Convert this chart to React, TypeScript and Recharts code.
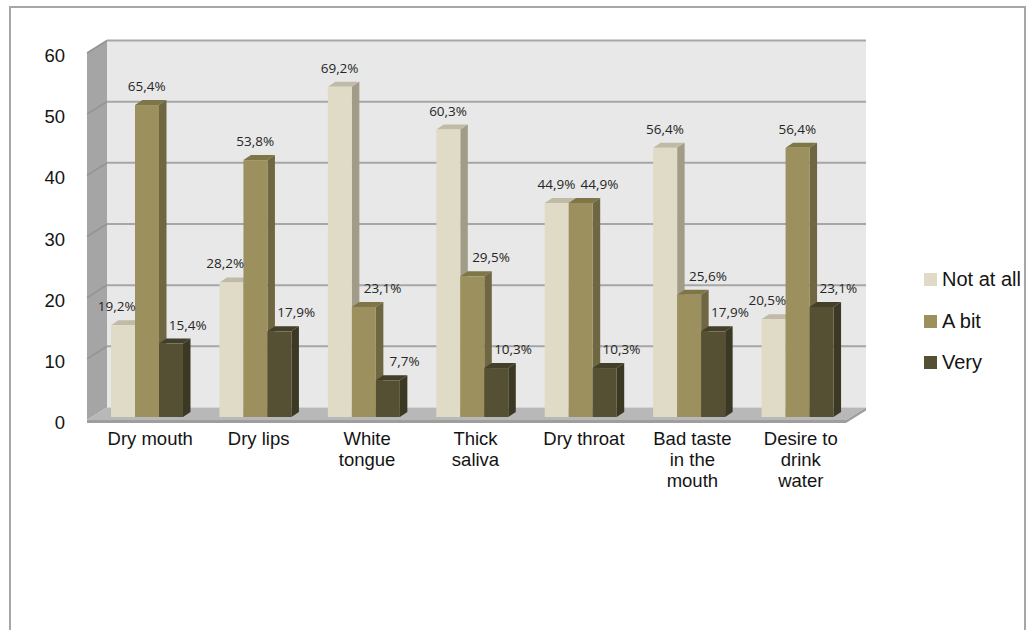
import React from 'react';
import { Bar, BarChart, CartesianGrid, LabelList, Legend, XAxis, YAxis } from 'recharts';

// counts out of 78 respondents, percentages as printed on the chart
const CATEGORIES = [
  'Dry mouth',
  'Dry lips',
  'White\ntongue',
  'Thick\nsaliva',
  'Dry throat',
  'Bad taste\nin the\nmouth',
  'Desire to\ndrink\nwater',
];
const NOT_AT_ALL = [15, 22, 54, 47, 35, 44, 16];
const A_BIT = [51, 42, 18, 23, 35, 20, 44];
const VERY = [12, 14, 6, 8, 8, 14, 18];
const NOT_AT_ALL_PCT = ['19,2%', '28,2%', '69,2%', '60,3%', '44,9%', '56,4%', '20,5%'];
const A_BIT_PCT = ['65,4%', '53,8%', '23,1%', '29,5%', '44,9%', '25,6%', '56,4%'];
const VERY_PCT = ['15,4%', '17,9%', '7,7%', '10,3%', '10,3%', '17,9%', '23,1%'];
const Y_TICKS = [0, 10, 20, 30, 40, 50, 60];

const SERIES = [
  { key: 'notAtAll', pct: 'notAtAllPct', name: 'Not at all', front: '#E0DBC6', top: '#BFBBA6', side: '#A09C88' },
  { key: 'aBit', pct: 'aBitPct', name: 'A bit', front: '#9C915E', top: '#7F7648', side: '#6E6742' },
  { key: 'very', pct: 'veryPct', name: 'Very', front: '#555034', top: '#433F28', side: '#3B3824' },
];

const rows = CATEGORIES.map((name, i) => ({
  name,
  notAtAll: NOT_AT_ALL[i],
  aBit: A_BIT[i],
  very: VERY[i],
  notAtAllPct: NOT_AT_ALL_PCT[i],
  aBitPct: A_BIT_PCT[i],
  veryPct: VERY_PCT[i],
}));

const W = 1026;
const H = 630;
const PLOT = { left: 93, top: 50, width: 759, height: 367 };
const BACK = { dx: 14, dy: -9.5 };
const FRONT = { dx: -6, dy: 3 };
const DEPTH = { dx: 7.5, dy: -5 };
const Y_AXIS_W = 40;
const X_AXIS_H = 30;

const ARIAL = '"Liberation Sans", Arial, sans-serif';
const TEXT = '#141414';

function Frame() {
  const x0 = PLOT.left;
  const x1 = PLOT.left + PLOT.width;
  const yTop = PLOT.top;
  const yBot = PLOT.top + PLOT.height;
  const bx0 = x0 + BACK.dx;
  const bx1 = x1 + BACK.dx;
  const byTop = yTop + BACK.dy;
  const byBot = yBot + BACK.dy;
  const fx0 = x0 + FRONT.dx;
  const fx1 = x1 + FRONT.dx;
  const fyTop = yTop + FRONT.dy;
  const fyBot = yBot + FRONT.dy;
  return (
    <svg width={W} height={H} style={{ position: 'absolute', left: 0, top: 0 }}>
      <rect x={10} y={7} width={1015} height={700} fill="#fff" stroke="#A6A6A6" strokeWidth={2} />
      <rect x={bx0} y={byTop} width={PLOT.width} height={byBot - byTop} fill="#E8E8E8" />
      <polygon points={`${fx0},${fyTop} ${bx0},${byTop} ${bx0},${byBot} ${fx0},${fyBot}`} fill="#A5A5A5" />
      <polygon points={`${fx0},${fyBot} ${bx0},${byBot} ${bx1},${byBot} ${fx1},${fyBot}`} fill="#B8B8B8" />
      <polygon
        points={`${fx0},${fyBot} ${fx1},${fyBot} ${bx1},${byBot} ${bx1},${byBot + 3} ${fx1},${fyBot + 3} ${fx0},${fyBot + 3}`}
        fill="#9E9E9E"
      />
    </svg>
  );
}

function GridLine(props: any) {
  const { x1, y1, x2, y2 } = props;
  if (Math.abs(y1 - (PLOT.top + PLOT.height)) < 1) return <g />;
  return (
    <g>
      <line
        x1={x1 + FRONT.dx}
        y1={y1 + FRONT.dy}
        x2={x1 + BACK.dx}
        y2={y1 + BACK.dy}
        stroke="#939393"
        strokeWidth={1.5}
      />
      <line
        x1={x1 + BACK.dx}
        y1={y1 + BACK.dy}
        x2={x2 + BACK.dx}
        y2={y2 + BACK.dy}
        stroke="#A6A6A6"
        strokeWidth={2}
      />
    </g>
  );
}

function Bar3D(props: any) {
  const { x, y, width, height, seriesIndex } = props;
  if (width == null || height == null || height <= 0) return <g />;
  const s = SERIES[seriesIndex ?? 0];
  const { dx, dy } = DEPTH;
  return (
    <g>
      <polygon points={`${x},${y} ${x + dx},${y + dy} ${x + width + dx},${y + dy} ${x + width},${y}`} fill={s.top} />
      <polygon
        points={`${x + width},${y} ${x + width + dx},${y + dy} ${x + width + dx},${y + height + dy} ${x + width},${y + height}`}
        fill={s.side}
      />
      <rect x={x} y={y} width={width} height={height} fill={s.front} />
    </g>
  );
}

// Excel nudges labels sideways when a neighbouring bar is in the way
function labelShift(seriesIndex: number, i: number) {
  if (seriesIndex === 0) return A_BIT[i] > NOT_AT_ALL[i] ? -10 : -4;
  if (seriesIndex === 1) return NOT_AT_ALL[i] >= A_BIT[i] ? 15 : -4;
  return 13;
}

function BarLabel(props: any) {
  const { x, y, width, value, index, seriesIndex } = props;
  const cx = Number(x) + Number(width) / 2 + DEPTH.dx / 2 + labelShift(seriesIndex, index ?? 0);
  return (
    <text x={cx} y={Number(y) - 14} textAnchor="middle" fontFamily='"Open Sans", sans-serif' fontSize={13.5} fill="#262626">
      {value}
    </text>
  );
}

function CategoryTick(props: any) {
  const { x, payload } = props;
  const lines = String(payload.value).split('\n');
  return (
    <text x={x + 3} y={445} textAnchor="middle" fontFamily={ARIAL} fontSize={18.5} fill={TEXT}>
      {lines.map((line, i) => (
        <tspan key={i} x={x + 3} dy={i === 0 ? 0 : 21}>
          {line}
        </tspan>
      ))}
    </text>
  );
}

function ValueTick(props: any) {
  const { y, payload } = props;
  return (
    <text x={65} y={y + 12} textAnchor="end" fontFamily={ARIAL} fontSize={18.5} fill={TEXT}>
      {payload.value}
    </text>
  );
}

// keep series order (Recharts sorts legend items by name otherwise)
function LegendContent() {
  return (
    <div>
      {SERIES.map((s) => (
        <div key={s.key} style={{ display: 'flex', alignItems: 'center', height: 41.5 }}>
          <span style={{ display: 'inline-block', width: 13, height: 13, background: s.front, marginRight: 5 }} />
          <span style={{ fontFamily: ARIAL, fontSize: 20, color: TEXT, whiteSpace: 'nowrap' }}>{s.name}</span>
        </div>
      ))}
    </div>
  );
}

export default function App() {
  return (
    <div style={{ position: 'absolute', left: 0, top: 0, width: W, height: H, background: '#fff' }}>
      <Frame />
      <div style={{ position: 'absolute', left: 0, top: 0 }}>
        <BarChart
          width={W}
          height={H}
          data={rows}
          margin={{
            top: PLOT.top,
            right: W - PLOT.left - PLOT.width,
            bottom: H - PLOT.top - PLOT.height - X_AXIS_H,
            left: PLOT.left - Y_AXIS_W,
          }}
          barGap={0}
          barSize={24}
        >
          <CartesianGrid vertical={false} horizontal={(p: any) => <GridLine {...p} />} />
          <XAxis
            dataKey="name"
            axisLine={false}
            tickLine={false}
            interval={0}
            height={X_AXIS_H}
            tick={<CategoryTick />}
          />
          <YAxis
            domain={[0, 60]}
            ticks={Y_TICKS}
            interval={0}
            width={Y_AXIS_W}
            axisLine={false}
            tickLine={false}
            tick={<ValueTick />}
          />
          <Legend
            layout="vertical"
            align="center"
            verticalAlign="middle"
            wrapperStyle={{ left: 924, top: 259, width: 110 }}
            content={<LegendContent />}
          />
          {SERIES.map((s, si) => (
            <Bar
              key={s.key}
              dataKey={s.key}
              name={s.name}
              fill={s.front}
              barSize={24}
              isAnimationActive={false}
              shape={(p: any) => <Bar3D {...p} seriesIndex={si} />}
            >
              <LabelList dataKey={s.pct} content={(p: any) => <BarLabel {...p} seriesIndex={si} />} />
            </Bar>
          ))}
        </BarChart>
      </div>
    </div>
  );
}
